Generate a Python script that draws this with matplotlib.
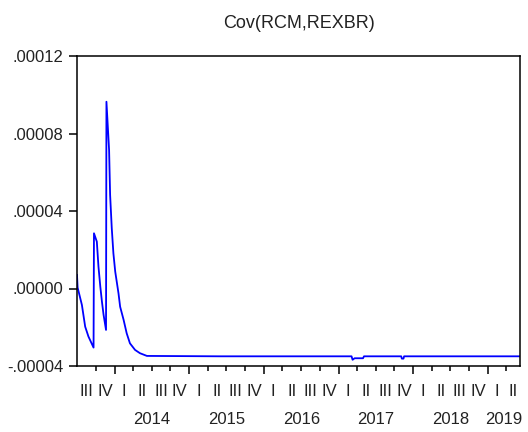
import pandas as pd
import matplotlib
matplotlib.use("Agg")
import matplotlib.pyplot as plt
import matplotlib.dates as mdates
import matplotlib.transforms as mtransforms

plt.rcParams["font.family"] = ["Liberation Sans Narrow", "Liberation Sans", "DejaVu Sans"]

# conditional covariance
fechas = [
    "2013-07-01", "2013-07-04", "2013-07-25", "2013-08-10", "2013-08-26",
    "2013-09-20", "2013-09-22", "2013-10-06", "2013-10-14", "2013-10-23",
    "2013-10-31", "2013-11-08", "2013-11-20", "2013-11-22", "2013-12-05",
    "2013-12-10", "2013-12-18", "2013-12-26", "2014-01-04", "2014-01-20",
    "2014-01-28", "2014-02-14", "2014-03-01", "2014-03-17", "2014-04-11",
    "2014-05-05", "2014-06-08", "2015-06-01", "2016-06-01", "2017-03-05",
    "2017-03-10", "2017-03-20", "2017-04-30", "2017-05-05", "2017-11-03",
    "2017-11-06", "2017-11-14", "2017-11-17", "2018-06-01", "2019-06-07",
]
cov = [
    0.0000070, 0.0000005, -0.0000085, -0.0000197, -0.0000248,
    -0.0000305, 0.0000285, 0.0000242, 0.0000113, 0.0000010,
    -0.0000068, -0.0000136, -0.0000214, 0.0000964, 0.0000715,
    0.0000483, 0.0000312, 0.0000182, 0.0000087, -0.0000025,
    -0.0000094, -0.0000162, -0.0000231, -0.0000283, -0.0000317,
    -0.0000334, -0.0000348, -0.0000350, -0.0000350, -0.0000350,
    -0.0000368, -0.0000360, -0.0000360, -0.0000350, -0.0000350,
    -0.0000362, -0.0000362, -0.0000350, -0.0000350, -0.0000350,
]

inicio = pd.Timestamp("2013-07-01")
fin = pd.Timestamp("2019-06-07")
anios = [2014, 2015, 2016, 2017, 2018, 2019]
romanos = {1: "I", 2: "II", 3: "III", 4: "IV"}
y_ticks = [-0.00004, 0.0, 0.00004, 0.00008, 0.00012]

fig = plt.figure(figsize=(5.28, 4.32), dpi=100)
ax = fig.add_axes([77 / 528, 66 / 432, 443 / 528, 310 / 432])

ax.plot(pd.to_datetime(fechas), cov, color="#0000ff", linewidth=1.3)

ax.set_xlim(inicio, fin)
ax.set_ylim(y_ticks[0], y_ticks[-1])
ax.set_yticks(y_ticks)
ax.set_yticklabels([f"{v:.5f}".replace("0.", ".", 1) for v in y_ticks])

# quarter ticks (minor) and year ticks (major), labels drawn as text
trimestres = pd.date_range("2013-10-01", "2019-04-01", freq="QS")
ax.set_xticks([pd.Timestamp(f"{a}-01-01") for a in anios])
ax.set_xticks(trimestres, minor=True)
ax.set_xticklabels([])
ax.tick_params(axis="x", which="major", length=6, width=1.1, direction="out")
ax.tick_params(axis="x", which="minor", length=3.6, width=1.1, direction="out")
ax.tick_params(axis="y", length=6, width=1.1, pad=4, labelsize=12, labelcolor="#222222")

trans = mtransforms.blended_transform_factory(ax.transData, ax.transAxes)
for q in pd.date_range("2013-07-01", "2019-04-01", freq="QS"):
    q_fin = min(q + pd.offsets.QuarterBegin(startingMonth=1), fin)
    centro = mdates.date2num(q) + (mdates.date2num(q_fin) - mdates.date2num(q)) / 2
    ax.text(centro, -0.083, romanos[q.quarter], transform=trans,
            ha="center", va="center", fontsize=12, color="#222222")
for a in anios:
    a_ini = mdates.date2num(pd.Timestamp(f"{a}-01-01"))
    a_fin = mdates.date2num(min(pd.Timestamp(f"{a + 1}-01-01"), fin))
    ax.text((a_ini + a_fin) / 2, -0.174, str(a), transform=trans,
            ha="center", va="center", fontsize=12, color="#222222")

for spine in ax.spines.values():
    spine.set_linewidth(1.1)

ax.set_title("Cov(RCM,REXBR)", fontsize=13, color="#222222", pad=20)

fig.savefig("out.png", dpi=100)
